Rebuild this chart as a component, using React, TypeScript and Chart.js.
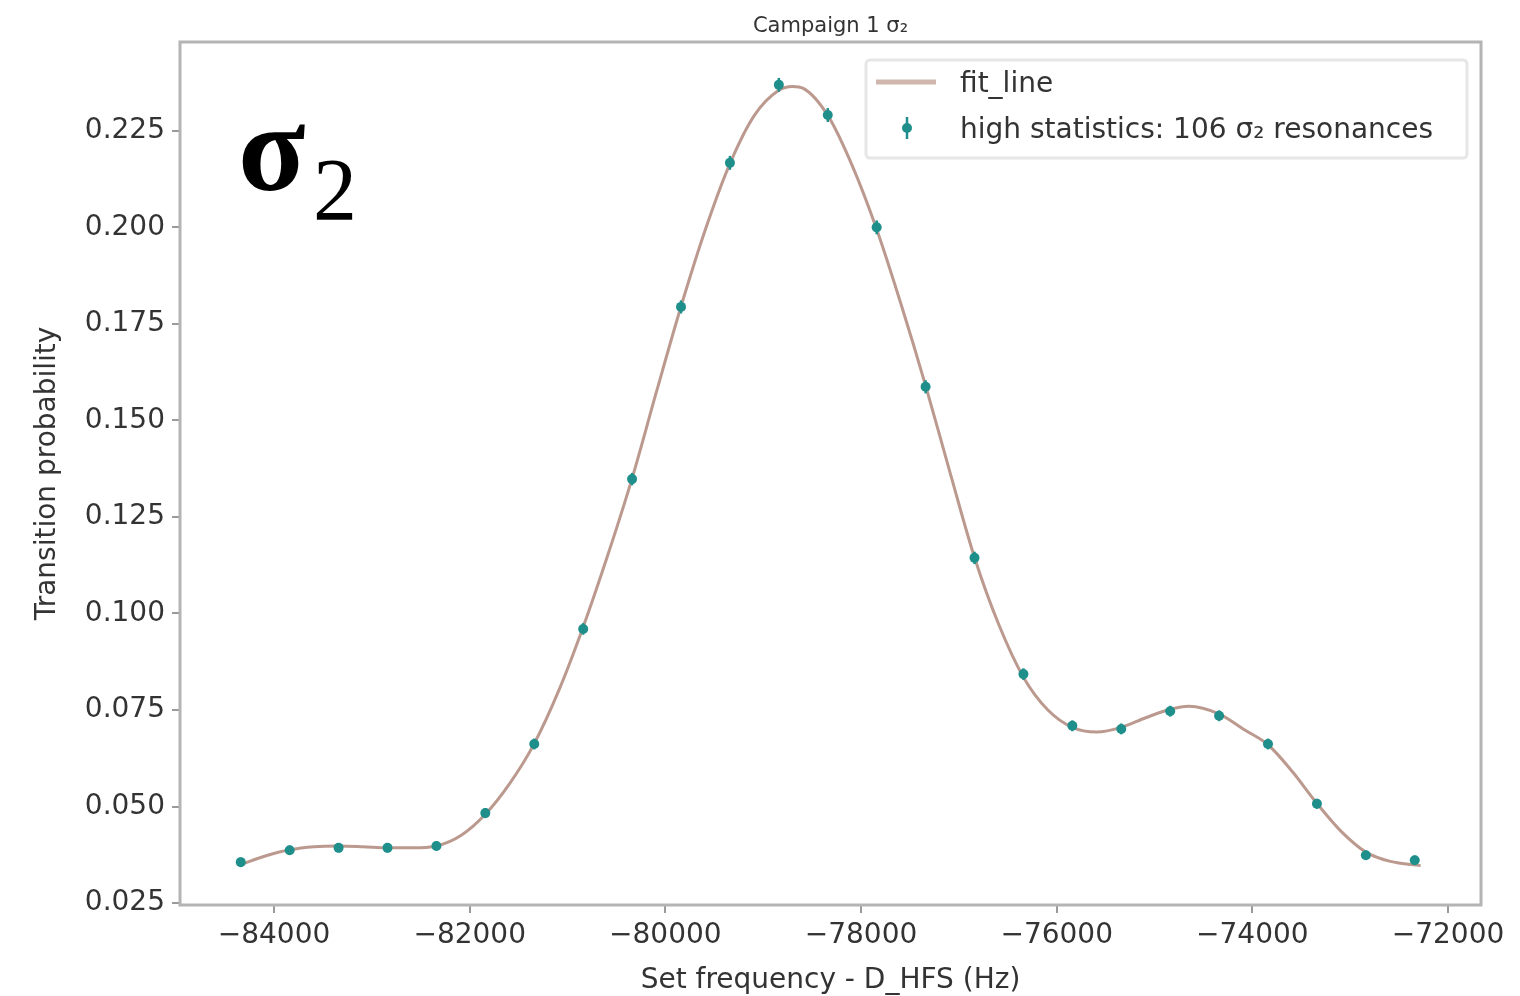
import React, { useEffect, useRef } from 'react';
import { Chart, registerables } from 'chart.js';

Chart.register(...registerables);

// ---- data ----
const dataX = [
  -84340, -83840, -83340, -82840, -82340, -81840, -81340, -80840, -80340, -79840,
  -79340, -78840, -78340, -77840, -77340, -76840, -76340, -75840, -75340, -74840,
  -74340, -73840, -73340, -72840, -72340,
];
const dataY = [
  0.0356, 0.0387, 0.0393, 0.0393, 0.0398, 0.0483, 0.0662, 0.0960, 0.1348, 0.1794,
  0.2167, 0.2369, 0.2291, 0.2000, 0.1587, 0.1144, 0.0843, 0.0709, 0.0701, 0.0747,
  0.0735, 0.0662, 0.0507, 0.0374, 0.0361,
];
const dataErr = [
  0.0012, 0.0012, 0.0012, 0.0012, 0.0012, 0.0013, 0.0014, 0.0015, 0.0016, 0.0017,
  0.0018, 0.0018, 0.0018, 0.0018, 0.0017, 0.0016, 0.0015, 0.0014, 0.0014, 0.0014,
  0.0014, 0.0014, 0.0013, 0.0012, 0.0012,
];

const fitX = [
  -84340, -84090, -83840, -83590, -83340, -83090, -82840, -82590, -82340, -82090,
  -81840, -81590, -81340, -81090, -80840, -80590, -80340, -80090, -79840, -79590,
  -79340, -79090, -78840, -78700, -78590, -78340, -78090, -77840, -77590, -77340,
  -77090, -76840, -76590, -76340, -76090, -75840, -75590, -75340, -75090, -74840,
  -74650, -74340, -74090, -73840, -73590, -73340, -73090, -72840, -72590, -72280,
];
const fitY = [
  0.0350, 0.0372, 0.0388, 0.0396, 0.0398, 0.0396, 0.0393, 0.0393, 0.0398, 0.0425,
  0.0480, 0.0560, 0.0663, 0.0800, 0.0965, 0.1150, 0.1350, 0.1575, 0.1795, 0.1995,
  0.2165, 0.2290, 0.2355, 0.2365, 0.2360, 0.2290, 0.2160, 0.1995, 0.1800, 0.1590,
  0.1365, 0.1145, 0.0970, 0.0835, 0.0750, 0.0705, 0.0693, 0.0705, 0.0730, 0.0752,
  0.0760, 0.0740, 0.0700, 0.0660, 0.0590, 0.0508, 0.0435, 0.0382, 0.0358, 0.0347,
];

const xTickValues = [-84000, -82000, -80000, -78000, -76000, -74000, -72000];
const xTickLabels = ['\u221284000', '\u221282000', '\u221280000', '\u221278000', '\u221276000', '\u221274000', '\u221272000'];
const yTickValues = [0.025, 0.05, 0.075, 0.1, 0.125, 0.15, 0.175, 0.2, 0.225];
const yTickLabels = ['0.025', '0.050', '0.075', '0.100', '0.125', '0.150', '0.175', '0.200', '0.225'];

const xMin = -84961;
const xMax = -71663;
const yMin = 0.0245;
const yMax = 0.248;

const titleText = 'Campaign 1 \u03c3\u2082';
const xTitle = 'Set frequency - D_HFS (Hz)';
const yTitle = 'Transition probability';
const legendFit = 'fit_line';
const legendData = 'high statistics: 106 \u03c3\u2082 resonances';
const bigSymbol = '\u03c3';
const bigSub = '2';

// ---- styles ----
const FONT = 'DejaVu Sans';
const TEXT = '#333333';
const pointColor = '#1f8f8c';
const fitColor = 'rgba(175,135,122,0.85)';
const frameColor = '#b4b4b4';

const overlayPlugin = {
  id: 'overlay',
  afterDatasetsDraw(chart: any) {
    const { ctx, scales } = chart;
    const xs = scales.x;
    const ys = scales.y;
    ctx.save();
    ctx.strokeStyle = pointColor;
    ctx.lineWidth = 2.5;
    dataX.forEach((x, i) => {
      const px = xs.getPixelForValue(x);
      const y1 = ys.getPixelForValue(dataY[i] - dataErr[i]);
      const y2 = ys.getPixelForValue(dataY[i] + dataErr[i]);
      ctx.beginPath();
      ctx.moveTo(px, y1);
      ctx.lineTo(px, y2);
      ctx.stroke();
    });
    ctx.restore();
  },
  afterDraw(chart: any) {
    const { ctx, chartArea } = chart;
    const { left, right, top, bottom } = chartArea;
    ctx.save();
    // frame
    ctx.strokeStyle = frameColor;
    ctx.lineWidth = 3;
    ctx.strokeRect(left, top, right - left, bottom - top);

    // title
    ctx.fillStyle = TEXT;
    ctx.font = `21px "${FONT}"`;
    ctx.textAlign = 'center';
    ctx.textBaseline = 'alphabetic';
    ctx.fillText(titleText, (left + right) / 2, top - 10);

    // legend
    const lx = right - 615;
    const ly = top + 18;
    const lw = 601;
    const lh = 98;
    ctx.fillStyle = 'rgba(255,255,255,0.85)';
    ctx.strokeStyle = '#e6e6e6';
    ctx.lineWidth = 3;
    ctx.beginPath();
    if ((ctx as any).roundRect) (ctx as any).roundRect(lx, ly, lw, lh, 4);
    else ctx.rect(lx, ly, lw, lh);
    ctx.fill();
    ctx.stroke();

    ctx.strokeStyle = 'rgba(200,170,160,0.85)';
    ctx.lineWidth = 5;
    ctx.beginPath();
    ctx.moveTo(lx + 10, ly + 22);
    ctx.lineTo(lx + 70, ly + 22);
    ctx.stroke();

    const mx = lx + 41;
    const my = ly + 68;
    ctx.strokeStyle = pointColor;
    ctx.lineWidth = 2.5;
    ctx.beginPath();
    ctx.moveTo(mx, my - 11);
    ctx.lineTo(mx, my + 11);
    ctx.stroke();
    ctx.fillStyle = pointColor;
    ctx.beginPath();
    ctx.arc(mx, my, 5, 0, Math.PI * 2);
    ctx.fill();

    ctx.fillStyle = TEXT;
    ctx.font = `28px "${FONT}"`;
    ctx.textAlign = 'left';
    ctx.textBaseline = 'middle';
    ctx.fillText(legendFit, lx + 94, ly + 25);
    ctx.fillText(legendData, lx + 94, my + 3);

    // big sigma label
    ctx.fillStyle = '#000000';
    ctx.textBaseline = 'alphabetic';
    ctx.font = `bold 124px "Liberation Serif"`;
    ctx.fillText(bigSymbol, left + 58, top + 148);
    ctx.font = `88px "Liberation Serif"`;
    ctx.fillText(bigSub, left + 133, top + 177);
    ctx.restore();
  },
};

export default function App() {
  const canvasRef = useRef<HTMLCanvasElement | null>(null);

  useEffect(() => {
    const canvas = canvasRef.current;
    if (!canvas) return;
    const chart = new Chart(canvas, {
      type: 'scatter',
      data: {
        datasets: [
          {
            type: 'scatter',
            label: legendData,
            data: dataX.map((x, i) => ({ x, y: dataY[i] })),
            backgroundColor: pointColor,
            borderColor: pointColor,
            pointRadius: 5,
            borderWidth: 0,
            order: 0,
          } as any,
          {
            type: 'line',
            label: legendFit,
            data: fitX.map((x, i) => ({ x, y: fitY[i] })),
            borderColor: fitColor,
            borderWidth: 3,
            pointRadius: 0,
            fill: false,
            cubicInterpolationMode: 'monotone',
            showLine: true,
            order: 1,
          } as any,
        ],
      },
      options: {
        animation: false,
        responsive: false,
        maintainAspectRatio: false,
        layout: { padding: { top: 42, right: 39, left: 0, bottom: 0 } },
        plugins: {
          legend: { display: false },
          title: { display: false },
          tooltip: { enabled: false },
        },
        scales: {
          x: {
            type: 'linear',
            min: xMin,
            max: xMax,
            afterBuildTicks: (s: any) => {
              s.ticks = xTickValues.map((v) => ({ value: v }));
            },
            afterFit: (s: any) => {
              s.height = 91;
            },
            ticks: {
              callback: (_v: any, i: number) => xTickLabels[i],
              font: { family: FONT, size: 28 },
              color: TEXT,
              padding: 6,
              maxRotation: 0,
              autoSkip: false,
            },
            grid: {
              display: true,
              drawOnChartArea: false,
              drawTicks: true,
              tickLength: 8,
              color: '#9a9a9a',
              lineWidth: 2,
            },
            border: { display: false },
            title: {
              display: true,
              text: xTitle,
              font: { family: FONT, size: 28, lineHeight: 1.1 },
              color: TEXT,
              padding: { top: 0, bottom: 0 },
            },
          },
          y: {
            type: 'linear',
            min: yMin,
            max: yMax,
            afterBuildTicks: (s: any) => {
              s.ticks = yTickValues.map((v) => ({ value: v }));
            },
            afterFit: (s: any) => {
              s.width = 180;
            },
            ticks: {
              callback: (_v: any, i: number) => yTickLabels[i],
              font: { family: FONT, size: 28 },
              color: TEXT,
              padding: 7,
              autoSkip: false,
            },
            grid: {
              display: true,
              drawOnChartArea: false,
              drawTicks: true,
              tickLength: 8,
              color: '#9a9a9a',
              lineWidth: 2,
            },
            border: { display: false },
            title: {
              display: true,
              text: yTitle,
              font: { family: FONT, size: 28 },
              color: TEXT,
              padding: { top: 31, bottom: 0 },
            },
          },
        },
      },
      plugins: [overlayPlugin],
    });
    return () => chart.destroy();
  }, []);

  return (
    <div style={{ position: 'absolute', left: 0, top: 0, width: 1520, height: 996, background: '#ffffff' }}>
      <canvas ref={canvasRef} width={1520} height={996} style={{ display: 'block' }} />
    </div>
  );
}
